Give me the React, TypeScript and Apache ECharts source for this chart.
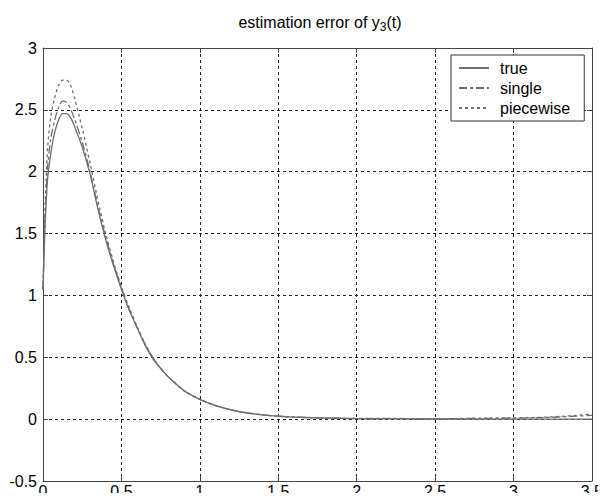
import React, { useEffect, useRef } from "react";
import * as echarts from "echarts";

const tValues = [0, 0.01, 0.02, 0.03, 0.05, 0.075, 0.1, 0.125, 0.15, 0.175, 0.2, 0.25, 0.3, 0.35, 0.4, 0.45, 0.5, 0.55, 0.6, 0.65, 0.7, 0.75, 0.8, 0.9, 1.0, 1.1, 1.2, 1.3, 1.4, 1.5, 1.6, 1.75, 1.9, 2.0, 2.1, 2.25, 2.4, 2.5, 2.65, 2.8, 3.0, 3.1, 3.2, 3.3, 3.4, 3.5];
const trueValues = [1.05, 1.45, 1.75, 1.95, 2.15, 2.32, 2.42, 2.47, 2.47, 2.44, 2.37, 2.2, 1.98, 1.7, 1.45, 1.24, 1.05, 0.88, 0.74, 0.6, 0.49, 0.41, 0.34, 0.23, 0.16, 0.11, 0.075, 0.05, 0.035, 0.024, 0.017, 0.01, 0.006, 0.004, 0.003, 0.002, 0.001, 0.001, 0.0, 0.0, 0.0, 0.0, 0.0, 0.0, 0.0, 0.0];
const singleValues = [1.05, 1.5, 1.85, 2.05, 2.27, 2.42, 2.52, 2.57, 2.56, 2.51, 2.43, 2.24, 2.0, 1.72, 1.47, 1.25, 1.06, 0.89, 0.74, 0.61, 0.5, 0.41, 0.34, 0.23, 0.16, 0.11, 0.075, 0.05, 0.035, 0.024, 0.017, 0.012, 0.008, 0.006, 0.005, 0.006, 0.003, 0.002, 0.004, 0.006, 0.008, 0.01, 0.013, 0.018, 0.024, 0.03];
const piecewiseValues = [1.05, 1.55, 1.95, 2.2, 2.45, 2.6, 2.7, 2.74, 2.74, 2.7, 2.6, 2.35, 2.07, 1.77, 1.5, 1.27, 1.07, 0.9, 0.75, 0.61, 0.5, 0.41, 0.34, 0.23, 0.16, 0.11, 0.075, 0.05, 0.035, 0.024, 0.016, 0.01, 0.007, 0.005, 0.004, 0.004, 0.003, 0.003, 0.005, 0.007, 0.01, 0.012, 0.016, 0.022, 0.03, 0.04];
const xTicks = { min: 0, max: 3.5, interval: 0.5 };
const yTicks = { min: -0.5, max: 3, interval: 0.5 };
const seriesNames = ["true", "single", "piecewise"];

const FONT = "Liberation Sans";

export default function App() {
  const ref = useRef<HTMLDivElement>(null);
  useEffect(() => {
    if (!ref.current) return;
    const chart = echarts.init(ref.current, undefined, { renderer: "svg" });
    const zip = (ys: number[]) => tValues.map((t, i) => [t, ys[i]]);
    const gridLine = { show: true, lineStyle: { color: "#222", type: [3, 3] as any, width: 1 } };
    const axisLine = { show: true, onZero: false, lineStyle: { color: "#444", width: 1 } };
    const tick = { show: true, inside: true, length: 5, lineStyle: { color: "#444" } };
    const lineColor = "#6e6e6e";
    chart.setOption({
      animation: false,
      backgroundColor: "#fff",
      title: {
        text: "estimation error of y{sub|3}(t)",
        left: 315,
        textAlign: "center",
        top: 6,
        textStyle: {
          fontFamily: FONT,
          fontSize: 16,
          fontWeight: "normal",
          color: "#000",
          rich: {
            sub: { fontFamily: FONT, fontSize: 12, verticalAlign: "bottom", padding: [10, 0, 0, 0], color: "#000" },
          },
        },
      },
      grid: { left: 43, right: 13, top: 48, bottom: 20, containLabel: false },
      legend: {
        orient: "vertical",
        left: 451,
        top: 55,
        data: seriesNames,
        itemWidth: 30,
        itemHeight: 14,
        itemGap: 4,
        padding: [5, 14, 5, 7],
        borderColor: "#333",
        borderWidth: 1,
        backgroundColor: "#fff",
        itemStyle: { opacity: 0 },
        textStyle: { fontFamily: FONT, fontSize: 16, color: "#000", padding: [0, 0, 0, 6] },
      },
      xAxis: [
        {
          type: "value",
          position: "bottom",
          ...xTicks,
          axisLine,
          axisTick: tick,
          splitLine: gridLine,
          axisLabel: { fontFamily: FONT, fontSize: 16, color: "#000", margin: 2 },
        },
        {
          type: "value",
          position: "top",
          ...xTicks,
          axisLine,
          axisTick: tick,
          splitLine: { show: false },
          axisLabel: { show: false },
        },
      ],
      yAxis: [
        {
          type: "value",
          position: "left",
          ...yTicks,
          axisLine,
          axisTick: tick,
          splitLine: gridLine,
          axisLabel: { fontFamily: FONT, fontSize: 16, color: "#000", margin: 6 },
        },
        {
          type: "value",
          position: "right",
          ...yTicks,
          axisLine,
          axisTick: tick,
          splitLine: { show: false },
          axisLabel: { show: false },
        },
      ],
      series: [
        {
          name: seriesNames[0],
          type: "line",
          data: zip(trueValues),
          showSymbol: false,
          symbol: "none",
          smooth: 0.3,
          lineStyle: { color: lineColor, width: 1.3, type: "solid" },
          itemStyle: { color: lineColor },
        },
        {
          name: seriesNames[1],
          type: "line",
          data: zip(singleValues),
          showSymbol: false,
          symbol: "none",
          smooth: 0.3,
          lineStyle: { color: lineColor, width: 1.3, type: [8, 3, 3, 3] },
          itemStyle: { color: lineColor },
        },
        {
          name: seriesNames[2],
          type: "line",
          data: zip(piecewiseValues),
          showSymbol: false,
          symbol: "none",
          smooth: 0.3,
          lineStyle: { color: lineColor, width: 1.3, type: [3, 3] },
          itemStyle: { color: lineColor },
        },
      ],
    });
    return () => chart.dispose();
  }, []);
  return <div ref={ref} style={{ width: 606, height: 501, margin: -8 }} />;
}
